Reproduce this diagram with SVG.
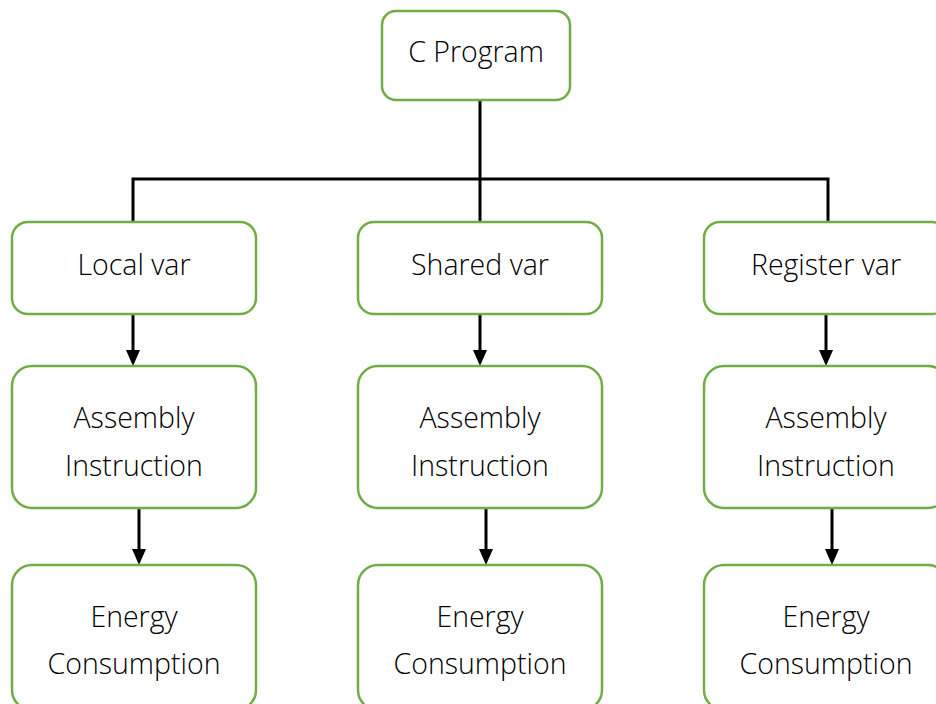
<svg xmlns="http://www.w3.org/2000/svg" width="936" height="704" viewBox="0 0 936 704">
<defs>
<style>
.node rect{fill:#fff;stroke:#70AD47;stroke-width:2.5}
.node text{font-family:"Open Sans","Noto Sans",sans-serif;font-size:28.5px;fill:#000;text-anchor:middle;font-weight:300}
.conn{stroke:#000;stroke-width:3;fill:none}
</style>
</defs>
<rect width="936" height="704" fill="#fff"/>
<g id="connectors">
<path class="conn" d="M480,100 V222 M133,222 V179 H828 V222"/>
<line class="conn" x1="133" y1="314" x2="133" y2="350"/>
<path d="M126,350 L140,350 L133,366 Z"/>
<line class="conn" x1="480" y1="314" x2="480" y2="350"/>
<path d="M473,350 L487,350 L480,366 Z"/>
<line class="conn" x1="826" y1="314" x2="826" y2="350"/>
<path d="M819,350 L833,350 L826,366 Z"/>
<line class="conn" x1="139" y1="508" x2="139" y2="549"/>
<path d="M132,549 L146,549 L139,565 Z"/>
<line class="conn" x1="486" y1="508" x2="486" y2="549"/>
<path d="M479,549 L493,549 L486,565 Z"/>
<line class="conn" x1="832" y1="508" x2="832" y2="549"/>
<path d="M825,549 L839,549 L832,565 Z"/>
</g>
<g id="cprogram" class="node"><rect x="382" y="11" width="188" height="89" rx="14"/><text x="476" y="62">C Program</text></g>
<g id="localvar" class="node"><rect x="12" y="222" width="244" height="92" rx="16"/><text x="134" y="275">Local var</text></g>
<g id="sharedvar" class="node"><rect x="358" y="222" width="244" height="92" rx="16"/><text x="480" y="275">Shared var</text></g>
<g id="registervar" class="node"><rect x="704" y="222" width="244" height="92" rx="16"/><text x="826" y="275">Register var</text></g>
<g id="asm1" class="node"><rect x="12" y="366" width="244" height="142" rx="20"/><text x="134" y="428">Assembly</text><text x="134" y="476">Instruction</text></g>
<g id="asm2" class="node"><rect x="358" y="366" width="244" height="142" rx="20"/><text x="480" y="428">Assembly</text><text x="480" y="476">Instruction</text></g>
<g id="asm3" class="node"><rect x="704" y="366" width="244" height="142" rx="20"/><text x="826" y="428">Assembly</text><text x="826" y="476">Instruction</text></g>
<g id="energy1" class="node"><rect x="12" y="565" width="244" height="145" rx="20"/><text x="134" y="627">Energy</text><text x="134" y="674">Consumption</text></g>
<g id="energy2" class="node"><rect x="358" y="565" width="244" height="145" rx="20"/><text x="480" y="627">Energy</text><text x="480" y="674">Consumption</text></g>
<g id="energy3" class="node"><rect x="704" y="565" width="244" height="145" rx="20"/><text x="826" y="627">Energy</text><text x="826" y="674">Consumption</text></g>
</svg>
